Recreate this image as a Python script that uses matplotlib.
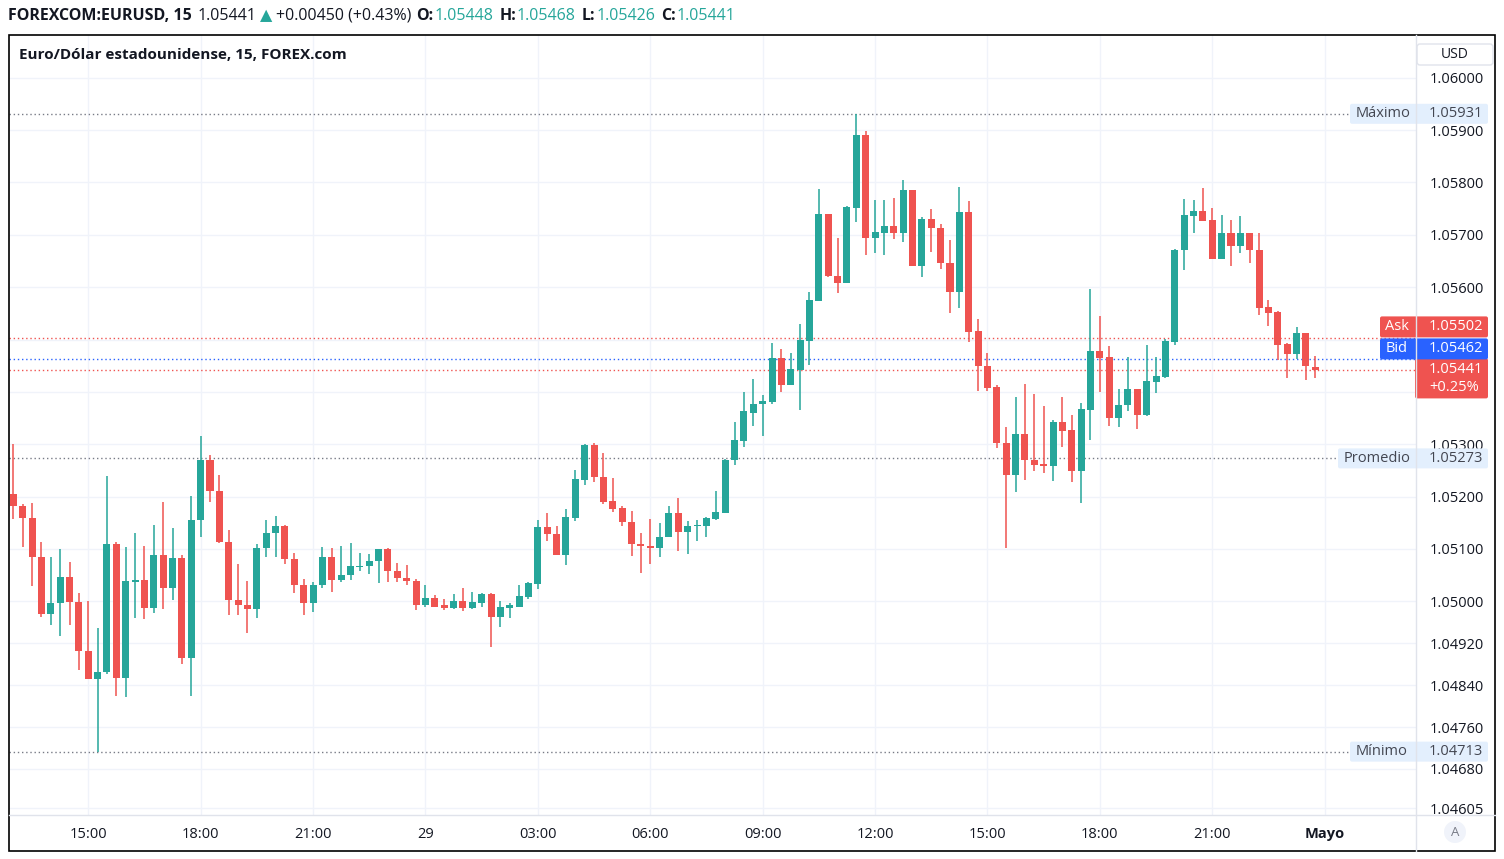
import matplotlib
matplotlib.use('Agg')
import matplotlib.pyplot as plt
from matplotlib.patches import Rectangle, FancyBboxPatch, Circle
import numpy as np

plt.rcParams['font.family'] = ['Open Sans', 'DejaVu Sans']

# ---------------- data (15-min candles, 28 Apr 13:00 -> 29 Apr 23:45) ----------------
opens = [1.05205, 1.05183, 1.05160, 1.05085, 1.04976, 1.04997, 1.05046, 1.04999, 1.04906, 1.04852,
         1.04865, 1.05110, 1.04854, 1.05037, 1.05040, 1.04988, 1.05089, 1.05026, 1.05083, 1.04892,
         1.05155, 1.05269, 1.05211, 1.05113, 1.05003, 1.04993, 1.04985, 1.05102, 1.05131, 1.05144,
         1.05081, 1.05031, 1.04997, 1.05031, 1.05085, 1.05041, 1.05050, 1.05066, 1.05068, 1.05077,
         1.05100, 1.05058, 1.05045, 1.05039, 1.04993, 1.05006, 1.04993, 1.04987, 1.05001, 1.04987,
         1.04997, 1.05014, 1.04970, 1.04988, 1.04990, 1.05009, 1.05034, 1.05142, 1.05129, 1.05089,
         1.05160, 1.05232, 1.05299, 1.05238, 1.05192, 1.05179, 1.05152, 1.05110, 1.05106, 1.05102,
         1.05122, 1.05169, 1.05133, 1.05143, 1.05144, 1.05158, 1.05169, 1.05269, 1.05307, 1.05360,
         1.05376, 1.05381, 1.05465, 1.05414, 1.05442, 1.05498, 1.05574, 1.05740, 1.05622, 1.05607,
         1.05752, 1.05891, 1.05693, 1.05704, 1.05717, 1.05704, 1.05786, 1.05641, 1.05730, 1.05712,
         1.05647, 1.05591, 1.05744, 1.05517, 1.05450, 1.05410, 1.05303, 1.05242, 1.05320, 1.05270,
         1.05263, 1.05259, 1.05342, 1.05327, 1.05248, 1.05366, 1.05478, 1.05466, 1.05351, 1.05374,
         1.05406, 1.05356, 1.05419, 1.05429, 1.05496, 1.05670, 1.05736, 1.05745, 1.05728, 1.05654,
         1.05703, 1.05679, 1.05703, 1.05671, 1.05562, 1.05553, 1.05491, 1.05473, 1.05512, 1.05448]
highs = [1.05300, 1.05186, 1.05188, 1.05113, 1.05085, 1.05100, 1.05075, 1.05016, 1.05001, 1.04949,
         1.05239, 1.05113, 1.05104, 1.05131, 1.05106, 1.05146, 1.05190, 1.05140, 1.05089, 1.05201,
         1.05316, 1.05279, 1.05241, 1.05136, 1.05071, 1.05039, 1.05110, 1.05155, 1.05163, 1.05146,
         1.05092, 1.05043, 1.05037, 1.05104, 1.05102, 1.05106, 1.05111, 1.05092, 1.05090, 1.05100,
         1.05102, 1.05073, 1.05069, 1.05043, 1.05031, 1.05012, 1.05004, 1.05014, 1.05025, 1.05018,
         1.05016, 1.05016, 1.05001, 1.04997, 1.05031, 1.05037, 1.05155, 1.05168, 1.05144, 1.05176,
         1.05251, 1.05301, 1.05302, 1.05283, 1.05236, 1.05182, 1.05173, 1.05131, 1.05157, 1.05150,
         1.05182, 1.05197, 1.05153, 1.05155, 1.05161, 1.05211, 1.05272, 1.05342, 1.05400, 1.05425,
         1.05394, 1.05493, 1.05482, 1.05474, 1.05530, 1.05591, 1.05787, 1.05740, 1.05694, 1.05755,
         1.05931, 1.05898, 1.05766, 1.05766, 1.05770, 1.05805, 1.05786, 1.05734, 1.05749, 1.05721,
         1.05690, 1.05791, 1.05765, 1.05539, 1.05474, 1.05414, 1.05333, 1.05390, 1.05415, 1.05396,
         1.05373, 1.05346, 1.05390, 1.05356, 1.05379, 1.05596, 1.05545, 1.05488, 1.05406, 1.05467,
         1.05406, 1.05490, 1.05467, 1.05501, 1.05673, 1.05768, 1.05766, 1.05789, 1.05751, 1.05738,
         1.05728, 1.05736, 1.05703, 1.05703, 1.05575, 1.05554, 1.05494, 1.05524, 1.05512, 1.05468]
lows = [1.05157, 1.05104, 1.05030, 1.04971, 1.04954, 1.04933, 1.04955, 1.04868, 1.04852, 1.04713,
        1.04861, 1.04819, 1.04818, 1.04969, 1.04966, 1.04978, 1.04986, 1.05003, 1.04881, 1.04819,
        1.05123, 1.05190, 1.05112, 1.04973, 1.04974, 1.04940, 1.04969, 1.05085, 1.05085, 1.05071,
        1.05016, 1.04974, 1.04980, 1.05025, 1.05018, 1.05036, 1.05041, 1.05058, 1.05052, 1.05035,
        1.05037, 1.05037, 1.05031, 1.04983, 1.04989, 1.04989, 1.04983, 1.04985, 1.04982, 1.04985,
        1.04989, 1.04913, 1.04951, 1.04969, 1.04989, 1.05005, 1.05024, 1.05116, 1.05089, 1.05070,
        1.05154, 1.05223, 1.05227, 1.05186, 1.05171, 1.05143, 1.05087, 1.05055, 1.05072, 1.05085,
        1.05122, 1.05097, 1.05091, 1.05116, 1.05123, 1.05156, 1.05169, 1.05261, 1.05295, 1.05335,
        1.05316, 1.05377, 1.05400, 1.05414, 1.05366, 1.05452, 1.05574, 1.05620, 1.05588, 1.05607,
        1.05725, 1.05662, 1.05666, 1.05662, 1.05691, 1.05687, 1.05641, 1.05620, 1.05668, 1.05635,
        1.05551, 1.05561, 1.05496, 1.05402, 1.05402, 1.05292, 1.05101, 1.05208, 1.05232, 1.05248,
        1.05246, 1.05230, 1.05295, 1.05228, 1.05188, 1.05309, 1.05400, 1.05335, 1.05332, 1.05364,
        1.05330, 1.05353, 1.05397, 1.05427, 1.05490, 1.05633, 1.05704, 1.05727, 1.05654, 1.05654,
        1.05641, 1.05666, 1.05647, 1.05547, 1.05526, 1.05460, 1.05427, 1.05463, 1.05423, 1.05426]
closes = [1.05183, 1.05160, 1.05085, 1.04976, 1.04997, 1.05046, 1.04999, 1.04906, 1.04852, 1.04865,
          1.05110, 1.04854, 1.05039, 1.05040, 1.04988, 1.05089, 1.05026, 1.05083, 1.04892, 1.05155,
          1.05269, 1.05211, 1.05113, 1.05003, 1.04993, 1.04985, 1.05102, 1.05131, 1.05144, 1.05081,
          1.05031, 1.04997, 1.05031, 1.05085, 1.05041, 1.05050, 1.05068, 1.05068, 1.05077, 1.05100,
          1.05058, 1.05045, 1.05039, 1.04993, 1.05006, 1.04989, 1.04987, 1.05001, 1.04987, 1.04999,
          1.05014, 1.04970, 1.04989, 1.04993, 1.05010, 1.05035, 1.05142, 1.05129, 1.05089, 1.05161,
          1.05234, 1.05299, 1.05238, 1.05190, 1.05177, 1.05152, 1.05110, 1.05106, 1.05102, 1.05123,
          1.05169, 1.05133, 1.05144, 1.05146, 1.05159, 1.05171, 1.05270, 1.05308, 1.05364, 1.05377,
          1.05383, 1.05465, 1.05414, 1.05444, 1.05499, 1.05575, 1.05740, 1.05622, 1.05607, 1.05753,
          1.05891, 1.05693, 1.05705, 1.05717, 1.05704, 1.05786, 1.05641, 1.05730, 1.05712, 1.05647,
          1.05591, 1.05744, 1.05515, 1.05450, 1.05408, 1.05303, 1.05242, 1.05320, 1.05269, 1.05261,
          1.05259, 1.05342, 1.05326, 1.05248, 1.05367, 1.05478, 1.05465, 1.05351, 1.05375, 1.05406,
          1.05356, 1.05421, 1.05430, 1.05497, 1.05671, 1.05738, 1.05745, 1.05727, 1.05654, 1.05703,
          1.05679, 1.05703, 1.05670, 1.05561, 1.05551, 1.05490, 1.05473, 1.05512, 1.05450, 1.05441]

time_tick_idx = [8, 20, 32, 44, 56, 68, 80, 92, 104, 116, 128, 140]
time_tick_labels = ['15:00', '18:00', '21:00', '29', '03:00', '06:00', '09:00',
                    '12:00', '15:00', '18:00', '21:00', 'Mayo']
price_ticks = [1.06000, 1.05900, 1.05800, 1.05700, 1.05600, 1.05500, 1.05400, 1.05300,
               1.05200, 1.05100, 1.05000, 1.04920, 1.04840, 1.04760, 1.04680, 1.04605]
hidden_price_ticks = [1.05500, 1.05400]   # covered by the Ask/Bid/last labels

max_price = 1.05931
min_price = 1.04713
avg_price = 1.05273
ask_price = 1.05502
bid_price = 1.05462
last_price = 1.05441
last_change = '+0.25%'

header_parts = [('FOREXCOM:EURUSD, 15', 'bold', 'dark', 6),
                ('1.05441', 'normal', 'dark', 3),
                ('\u25B2', 'normal', 'green', 4),
                ('+0.00450 (+0.43%)', 'normal', 'dark', 5),
                ('O:', 'bold', 'dark', 1), ('1.05448', 'normal', 'green', 6),
                ('H:', 'bold', 'dark', 1), ('1.05468', 'normal', 'green', 6),
                ('L:', 'bold', 'dark', 1), ('1.05426', 'normal', 'green', 6),
                ('C:', 'bold', 'dark', 1), ('1.05441', 'normal', 'green', 0)]
title = 'Euro/Dólar estadounidense, 15, FOREX.com'

# ---------------- style ----------------
GREEN = '#26a69a'
RED = '#ef5350'
BLUE = '#2962ff'
DARK = '#131722'
GRID = '#f0f3fa'
SEP = '#e0e3eb'
LBL = '#e3effd'

W, H = 1504, 859
fig = plt.figure(figsize=(W / 100, H / 100), dpi=100)
fig.patch.set_facecolor('white')

L, R, T, B = 9, 1416, 35, 815
ax = fig.add_axes([L / W, 1 - B / H, (R - L) / W, (B - T) / H])
ax.set_facecolor('white')

o = np.array(opens); h = np.array(highs); l = np.array(lows); c = np.array(closes)
x = np.arange(len(o))
up = c >= o
cols = np.where(up, GREEN, RED)

ax.vlines(x, l, h, colors=cols, linewidth=1.1, zorder=3)
body_bottom = np.minimum(o, c)
body_h = np.maximum(np.abs(c - o), 0.00002)
ax.bar(x, body_h, bottom=body_bottom, width=0.75, color=cols, linewidth=0, zorder=4)

ax.set_xlim(-0.459, 149.75)
ax.set_ylim(1.045920, 1.060815)

ax.set_yticks(price_ticks)
ax.set_yticklabels(['' if p in hidden_price_ticks else f'{p:.5f}' for p in price_ticks])
ax.set_xticks(time_tick_idx)
ax.set_xticklabels(time_tick_labels)
ax.grid(True, color=GRID, linewidth=1)
ax.set_axisbelow(True)
ax.yaxis.tick_right()
ax.tick_params(axis='y', length=0, pad=9.5, labelsize=10.5, labelcolor=DARK)
ax.tick_params(axis='x', length=0, pad=8.5, labelsize=10.5, labelcolor=DARK)
ax.get_xticklabels()[-1].set_fontweight('bold')
for s in ax.spines.values():
    s.set_visible(False)

dot = (0, (1, 2))
ax.axhline(max_price, color='#787b86', lw=1, ls=dot, zorder=2)
ax.axhline(min_price, color='#787b86', lw=1, ls=dot, zorder=2)
ax.axhline(avg_price, color='#787b86', lw=1, ls=dot, zorder=2)
ax.axhline(ask_price, color=RED, lw=1, ls=dot, zorder=2)
ax.axhline(bid_price, color=BLUE, lw=1, ls=dot, zorder=2)
ax.axhline(last_price, color=RED, lw=1, ls=dot, zorder=2)

# ---------------- overlay in pixel coordinates ----------------
ov = fig.add_axes([0, 0, 1, 1], zorder=10)
ov.set_xlim(0, W)
ov.set_ylim(H, 0)
ov.axis('off')
ov.patch.set_alpha(0)


def ypix(p):
    return H - ax.transData.transform((0, p))[1]


# frame & separators
ov.add_patch(Rectangle((9, 35), 1486, 816, fill=False, ec='black', lw=1.2))
ov.plot([1416, 1416], [35, 851], color=SEP, lw=1)
ov.plot([9, 1495], [815, 815], color=SEP, lw=1)

# USD box
ov.add_patch(FancyBboxPatch((1417, 44), 76, 21, boxstyle='round,pad=0,rounding_size=3',
                            fc='white', ec=SEP, lw=1))
ov.text(1455, 54.5, 'USD', ha='center', va='center', fontsize=10, color=DARK)

# A circle
ov.add_patch(Circle((1455, 832), 11, fc=GRID, ec='none'))
ov.text(1455, 832, 'A', ha='center', va='center', fontsize=9.5, color='#787b86')

# stat labels
for name, val, x0 in [('Máximo', max_price, 1350), ('Promedio', avg_price, 1338),
                      ('Mínimo', min_price, 1350)]:
    yc = ypix(val)
    ov.add_patch(FancyBboxPatch((x0, yc - 10), 1488 - x0, 20,
                                boxstyle='round,pad=0,rounding_size=2', fc=LBL, ec='none'))
    ov.text(x0 + 6, yc, name, ha='left', va='center', fontsize=10.5, color='#434651')
    ov.text(1429, yc, f'{val:.5f}', ha='left', va='center', fontsize=10.5, color='#434651')

# last price / bid / ask labels
yl = ypix(last_price)
ov.add_patch(FancyBboxPatch((1415, yl - 12), 73, 40, boxstyle='round,pad=0,rounding_size=2',
                            fc=RED, ec='none'))
ov.text(1429, yl - 1, f'{last_price:.5f}', ha='left', va='center', fontsize=10.5,
        color='white')
ov.text(1429, yl + 17, last_change, ha='left', va='center', fontsize=10.5, color='white')

yb = yl - 22
ov.add_patch(FancyBboxPatch((1380, yb - 10), 108, 21, boxstyle='round,pad=0,rounding_size=2',
                            fc=BLUE, ec='none'))
ov.text(1386, yb, 'Bid', ha='left', va='center', fontsize=10.5, color='white')
ov.text(1429, yb, f'{bid_price:.5f}', ha='left', va='center', fontsize=10.5, color='white')

ya = yb - 22
ov.add_patch(FancyBboxPatch((1380, ya - 10), 108, 21, boxstyle='round,pad=0,rounding_size=2',
                            fc=RED, ec='none'))
ov.text(1385, ya, 'Ask', ha='left', va='center', fontsize=10.5, color='white')
ov.text(1429, ya, f'{ask_price:.5f}', ha='left', va='center', fontsize=10.5, color='white')

# title inside chart
ov.text(19, 55, title, ha='left', va='center', fontsize=11, fontweight='bold', color=DARK)

# header line
renderer = fig.canvas.get_renderer()
xp = 8
for txt, wt, col, gap in header_parts:
    t = ov.text(xp, 16, txt, ha='left', va='center', fontsize=11.5, fontweight=wt,
                color=GREEN if col == 'green' else DARK)
    bb = t.get_window_extent(renderer)
    xp += bb.width + gap

fig.savefig('out.png', dpi=100, facecolor='white')
